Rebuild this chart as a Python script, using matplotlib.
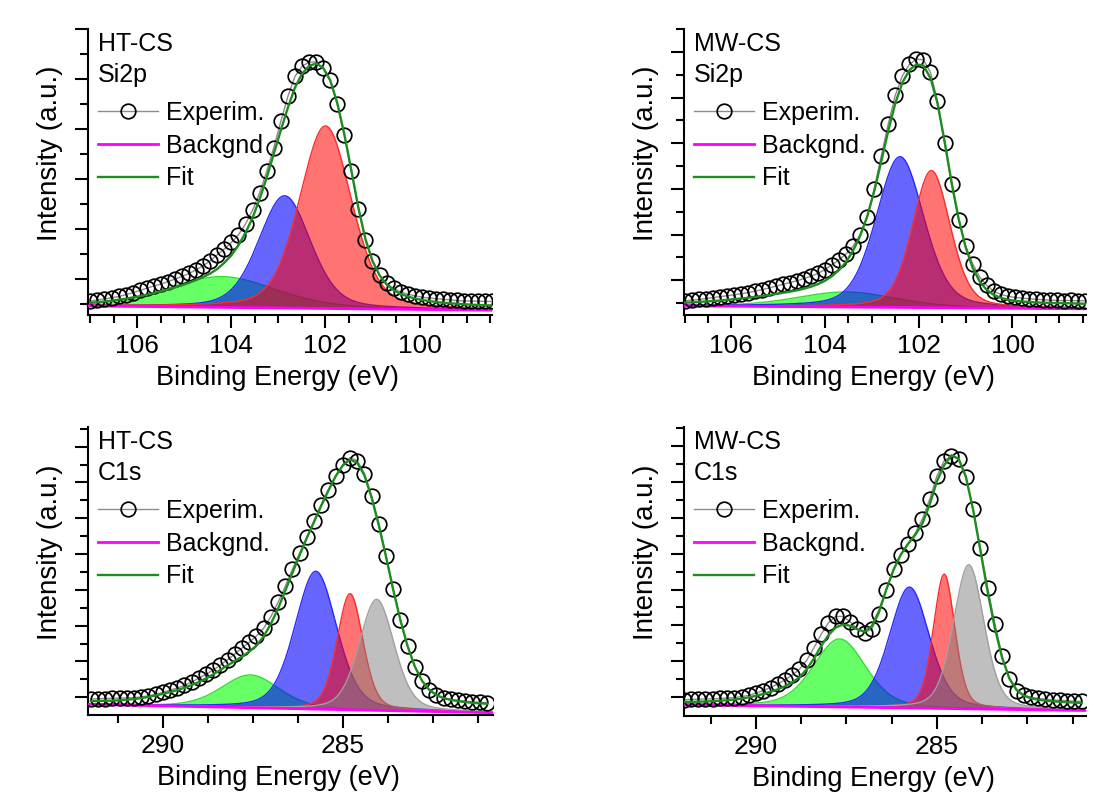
import matplotlib
matplotlib.use('Agg')
import matplotlib.pyplot as plt
import numpy as np
from matplotlib.ticker import MultipleLocator, FixedLocator, NullFormatter

plt.rcParams['font.family'] = ['Liberation Sans', 'DejaVu Sans']

# ---- data (intensity in arbitrary units) ----
si_energy = [107.0, 106.85, 106.7, 106.55, 106.4, 106.25, 106.1, 105.95, 105.8, 105.65,
             105.5, 105.35, 105.2, 105.05, 104.9, 104.75, 104.6, 104.45, 104.3, 104.15,
             104.0, 103.85, 103.7, 103.55, 103.4, 103.25, 103.1, 102.95, 102.8, 102.65,
             102.5, 102.35, 102.2, 102.05, 101.9, 101.75, 101.6, 101.45, 101.3, 101.15,
             101.0, 100.85, 100.7, 100.55, 100.4, 100.25, 100.1, 99.95, 99.8, 99.65,
             99.5, 99.35, 99.2, 99.05, 98.9, 98.75, 98.6, 98.45]

ht_si_exp = [0.12, 0.16, 0.2, 0.25, 0.3, 0.37, 0.45, 0.54, 0.63, 0.72,
             0.8, 0.89, 1.0, 1.1, 1.22, 1.37, 1.53, 1.73, 1.97, 2.2,
             2.46, 2.77, 3.2, 3.75, 4.45, 5.3, 6.25, 7.3, 8.3, 9.1,
             9.5, 9.68, 9.68, 9.42, 8.95, 8.0, 6.75, 5.3, 3.8, 2.55,
             1.7, 1.15, 0.82, 0.62, 0.48, 0.39, 0.33, 0.27, 0.24, 0.21,
             0.19, 0.16, 0.14, 0.12, 0.12, 0.11, 0.1, 0.1]
ht_si_fit = [0.05, 0.07, 0.1, 0.13, 0.17, 0.21, 0.26, 0.31, 0.37, 0.44,
             0.51, 0.58, 0.66, 0.75, 0.85, 0.96, 1.08, 1.22, 1.4, 1.65,
             1.95, 2.35, 2.85, 3.45, 4.2, 5.05, 6.0, 6.95, 7.85, 8.65,
             9.2, 9.52, 9.62, 9.45, 8.95, 8.05, 6.8, 5.35, 3.85, 2.6,
             1.72, 1.15, 0.78, 0.55, 0.4, 0.3, 0.22, 0.16, 0.12, 0.08,
             0.05, 0.03, 0.01, -0.01, -0.03, -0.04, -0.05, -0.06]

mw_si_exp = [0.1, 0.13, 0.16, 0.2, 0.24, 0.28, 0.32, 0.36, 0.41, 0.46,
             0.52, 0.59, 0.66, 0.74, 0.82, 0.9, 0.98, 1.07, 1.18, 1.3,
             1.47, 1.68, 1.9, 2.15, 2.5, 3.0, 3.75, 5.0, 6.45, 7.85,
             9.1, 9.95, 10.45, 10.68, 10.65, 10.1, 8.85, 7.0, 5.2, 3.65,
             2.5, 1.72, 1.15, 0.78, 0.52, 0.38, 0.3, 0.25, 0.22, 0.19,
             0.17, 0.15, 0.13, 0.12, 0.11, 0.12, 0.1, 0.1]
mw_si_fit = [0.02, 0.03, 0.05, 0.07, 0.09, 0.11, 0.14, 0.17, 0.2, 0.23,
             0.27, 0.31, 0.35, 0.4, 0.45, 0.5, 0.56, 0.63, 0.72, 0.83,
             0.98, 1.18, 1.45, 1.8, 2.3, 2.95, 3.8, 4.9, 6.2, 7.55,
             8.75, 9.65, 10.2, 10.45, 10.4, 9.85, 8.75, 7.1, 5.3, 3.7,
             2.45, 1.55, 0.95, 0.58, 0.36, 0.23, 0.15, 0.1, 0.07, 0.05,
             0.03, 0.02, 0.01, 0.0, 0.0, -0.01, -0.02, -0.03]

c_energy = [292.0, 291.8, 291.6, 291.4, 291.2, 291.0, 290.8, 290.6, 290.4, 290.2,
            290.0, 289.8, 289.6, 289.4, 289.2, 289.0, 288.8, 288.6, 288.4, 288.2,
            288.0, 287.8, 287.6, 287.4, 287.2, 287.0, 286.8, 286.6, 286.4, 286.2,
            286.0, 285.8, 285.6, 285.4, 285.2, 285.0, 284.8, 284.6, 284.4, 284.2,
            284.0, 283.8, 283.6, 283.4, 283.2, 283.0, 282.8, 282.6, 282.4, 282.2,
            282.0, 281.8, 281.6, 281.4, 281.2, 281.0]

ht_c_exp = [-0.1, -0.08, -0.07, -0.06, -0.05, -0.04, -0.02, 0.02, 0.08, 0.16,
            0.27, 0.4, 0.52, 0.66, 0.85, 1.07, 1.28, 1.52, 1.8, 2.1,
            2.42, 2.75, 3.07, 3.42, 3.85, 4.5, 5.3, 6.2, 7.15, 8.05,
            8.95, 9.85, 10.75, 11.6, 12.35, 13.0, 13.38, 13.22, 12.5, 11.25,
            9.7, 7.9, 6.05, 4.3, 2.85, 1.7, 0.9, 0.4, 0.1, -0.05,
            -0.12, -0.18, -0.22, -0.26, -0.28, -0.3]
ht_c_fit = [-0.22, -0.21, -0.2, -0.19, -0.17, -0.14, -0.1, -0.05, 0.02, 0.1,
            0.19, 0.29, 0.4, 0.53, 0.68, 0.85, 1.05, 1.28, 1.53, 1.78,
            2.02, 2.27, 2.55, 2.88, 3.4, 4.1, 4.95, 5.95, 6.95, 7.95,
            8.9, 9.8, 10.7, 11.55, 12.35, 12.95, 13.28, 13.1, 12.4, 11.15,
            9.6, 7.85, 6.0, 4.3, 2.85, 1.72, 0.92, 0.42, 0.12, -0.05,
            -0.15, -0.22, -0.27, -0.31, -0.34, -0.36]

mw_c_exp = [-0.15, -0.13, -0.12, -0.11, -0.1, -0.08, -0.06, -0.03, 0.02, 0.1,
            0.22, 0.36, 0.53, 0.73, 0.95, 1.22, 1.55, 2.05, 2.75, 3.5,
            4.15, 4.5, 4.5, 4.2, 3.8, 3.6, 3.8, 4.65, 5.95, 7.15,
            7.95, 8.55, 9.15, 9.95, 11.05, 12.35, 13.2, 13.45, 13.3, 12.3,
            10.5, 8.3, 6.1, 4.1, 2.3, 1.0, 0.35, 0.1, -0.02, -0.08,
            -0.12, -0.16, -0.19, -0.21, -0.23, -0.25]
mw_c_fit = [-0.28, -0.27, -0.26, -0.25, -0.23, -0.21, -0.18, -0.14, -0.09, -0.02,
            0.07, 0.17, 0.29, 0.43, 0.6, 0.82, 1.1, 1.55, 2.15, 2.85,
            3.45, 3.88, 4.05, 3.98, 3.78, 3.65, 3.95, 4.8, 6.0, 7.1,
            7.95, 8.55, 9.05, 9.7, 10.75, 12.05, 12.95, 13.5, 13.3, 12.3,
            10.45, 8.2, 5.9, 3.85, 2.2, 1.05, 0.4, 0.08, -0.07, -0.15,
            -0.2, -0.24, -0.27, -0.29, -0.31, -0.33]

# background (value at first and last energy of each scan)
ht_si_bg = [-0.08, -0.25]
mw_si_bg = [-0.12, -0.25]
ht_c_bg = [-0.40, -0.86]
mw_c_bg = [-0.43, -0.75]

# fitted components: colour, centre (eV), height, FWHM (eV)
si_comp_colors = ['green', 'blue', 'red']
ht_si_center = [104.2, 102.87, 102.0]
ht_si_height = [1.23, 4.49, 7.3]
ht_si_fwhm = [2.7, 1.3, 1.3]
mw_si_center = [103.55, 102.4, 101.73]
mw_si_height = [0.66, 6.6, 6.0]
mw_si_fwhm = [2.5, 1.2, 0.95]

c_comp_colors = ['green', 'blue', 'red', 'gray']
ht_c_center = [287.57, 285.75, 284.8, 284.06]
ht_c_height = [1.83, 7.7, 6.49, 6.2]
ht_c_fwhm = [1.9, 1.37, 0.85, 1.15]
mw_c_center = [287.69, 285.76, 284.8, 284.12]
mw_c_height = [3.8, 6.75, 7.5, 8.05]
mw_c_fwhm = [1.7, 1.3, 0.7, 1.0]

# ---- styles ----
face = {'green': '#00ff00', 'blue': '#0000ff', 'red': '#ff0000', 'gray': '#808080'}
alpha = {'green': 0.6, 'blue': 0.6, 'red': 0.55, 'gray': 0.5}
edge = {'green': '#33dd33', 'blue': '#2a2aff', 'red': '#ff2a2a', 'gray': '#a0a0a0'}


def pseudo_voigt(x, c, h, fwhm, m=0.3):
    t = ((x - c) / (fwhm / 2.0)) ** 2
    return h * ((1 - m) * np.exp(-np.log(2) * t) + m / (1 + t))


fig = plt.figure(figsize=(11.04, 7.96), dpi=100)

panels = [
    dict(rect=[0.0797, 0.6043, 0.3659, 0.3593], energy=si_energy, exp=ht_si_exp, fit=ht_si_fit,
         bg=ht_si_bg, colors=si_comp_colors, center=ht_si_center, height=ht_si_height,
         fwhm=ht_si_fwhm, name='HT-CS', core='Si2p', bglabel='Backgnd',
         xlim=(107.05, 98.46), ylim=(-0.44, 11.0), xmaj=[106, 104, 102, 100], xmin=0.5,
         ymaj=[1, 3, 5, 7, 9, 11], ymin=[0, 2, 4, 6, 8, 10]),
    dict(rect=[0.6196, 0.6043, 0.3641, 0.3593], energy=si_energy, exp=mw_si_exp, fit=mw_si_fit,
         bg=mw_si_bg, colors=si_comp_colors, center=mw_si_center, height=mw_si_height,
         fwhm=mw_si_fwhm, name='MW-CS', core='Si2p', bglabel='Backgnd.',
         xlim=(107.01, 98.43), ylim=(-0.52, 12.0), xmaj=[106, 104, 102, 100], xmin=0.5,
         ymaj=[1, 3, 5, 7, 9, 11], ymin=[0, 2, 4, 6, 8, 10, 12]),
    dict(rect=[0.0797, 0.1018, 0.3668, 0.3618], energy=c_energy, exp=ht_c_exp, fit=ht_c_fit,
         bg=ht_c_bg, colors=c_comp_colors, center=ht_c_center, height=ht_c_height,
         fwhm=ht_c_fwhm, name='HT-CS', core='C1s', bglabel='Backgnd.',
         xlim=(292.08, 280.83), ylim=(-0.99, 15.1), xmaj=[290, 285], xmin=1.25,
         ymaj=list(range(0, 16, 2)), ymin=list(range(1, 16, 2))),
    dict(rect=[0.6196, 0.1005, 0.3641, 0.3631], energy=c_energy, exp=mw_c_exp, fit=mw_c_fit,
         bg=mw_c_bg, colors=c_comp_colors, center=mw_c_center, height=mw_c_height,
         fwhm=mw_c_fwhm, name='MW-CS', core='C1s', bglabel='Backgnd.',
         xlim=(291.99, 280.88), ylim=(-1.06, 15.08), xmaj=[290, 285], xmin=1.25,
         ymaj=list(range(0, 16, 2)), ymin=list(range(1, 16, 2))),
]

for p in panels:
    ax = fig.add_axes(p['rect'])
    e = np.array(p['energy'])
    xs = np.linspace(p['xlim'][1], p['xlim'][0], 700)
    e0, e1 = p['energy'][0], p['energy'][-1]
    bg = p['bg'][0] + (p['bg'][1] - p['bg'][0]) * (xs - e0) / (e1 - e0)

    for col, c, h, w in zip(p['colors'], p['center'], p['height'], p['fwhm']):
        comp = pseudo_voigt(xs, c, h, w)
        ax.fill_between(xs, bg, bg + comp, color=face[col], alpha=alpha[col], lw=0, zorder=2)
        ax.plot(xs, bg + comp, color=edge[col], lw=1.0, zorder=2)

    bg_line, = ax.plot(xs, bg, color='#ff00ff', lw=2.0, zorder=3)
    exp_line, = ax.plot(e, p['exp'], color='#8c8c8c', lw=1.0, marker='o', ms=10.5,
                        mfc='none', mec='black', mew=1.25, zorder=4)
    fit_line, = ax.plot(e, p['fit'], color='#1e8c1e', lw=1.7, zorder=5)

    ax.set_xlim(*p['xlim'])
    ax.set_ylim(*p['ylim'])
    ax.xaxis.set_major_locator(FixedLocator(p['xmaj']))
    ax.xaxis.set_minor_locator(MultipleLocator(p['xmin']))
    ax.yaxis.set_major_locator(FixedLocator(p['ymaj']))
    ax.yaxis.set_minor_locator(FixedLocator(p['ymin']))
    ax.yaxis.set_major_formatter(NullFormatter())

    for s in ['top', 'right']:
        ax.spines[s].set_visible(False)
    for s in ['left', 'bottom']:
        ax.spines[s].set_linewidth(1.5)
    ax.tick_params(which='major', direction='out', length=9, width=1.5, labelsize=19, pad=5)
    ax.tick_params(which='minor', direction='out', length=5.5, width=1.5)
    ax.tick_params(axis='y', which='major', length=9.5)

    h_px = p['rect'][3] * 796
    w_px = p['rect'][2] * 1104
    ax.set_xlabel('Binding Energy (eV)', fontsize=19.5)
    ax.xaxis.set_label_coords(0.47, -50 / h_px)
    ax.set_ylabel('Intensity (a.u.)', fontsize=20)
    ax.yaxis.set_label_coords(-25 / w_px, 0.565)

    ax.text(0.025, 1 - 22 / h_px, p['name'], transform=ax.transAxes, fontsize=18, va='baseline')
    ax.text(0.025, 1 - 53 / h_px, p['core'], transform=ax.transAxes, fontsize=18, va='baseline')

    leg = ax.legend([exp_line, bg_line, fit_line], ['Experim.', p['bglabel'], 'Fit'],
                    loc='upper left', bbox_to_anchor=(0.025, 1 - 72 / h_px), frameon=False,
                    fontsize=18, handlelength=2.4, handletextpad=0.3, labelspacing=0.35,
                    borderpad=0, borderaxespad=0, numpoints=1)
    leg.set_zorder(1)

fig.savefig('out.png', dpi=100)
